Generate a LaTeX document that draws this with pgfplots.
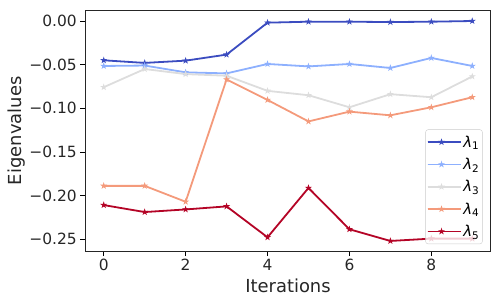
\documentclass[border=0pt]{standalone}
\usepackage{pgfplots}
\pgfplotsset{compat=1.18}
\usepackage{fontspec}
\setmainfont{DejaVu Sans}
\definecolor{c1}{RGB}{59,76,192}
\definecolor{c2}{RGB}{141,176,254}
\definecolor{c3}{RGB}{221,221,221}
\definecolor{c4}{RGB}{244,154,123}
\definecolor{c5}{RGB}{180,4,38}
\pgfdeclareplotmark{fstar}{%
  \pgfpathmoveto{\pgfpointpolar{90}{\pgfplotmarksize}}%
  \pgfpathlineto{\pgfpointpolar{126}{0.382\pgfplotmarksize}}%
  \pgfpathlineto{\pgfpointpolar{162}{\pgfplotmarksize}}%
  \pgfpathlineto{\pgfpointpolar{198}{0.382\pgfplotmarksize}}%
  \pgfpathlineto{\pgfpointpolar{234}{\pgfplotmarksize}}%
  \pgfpathlineto{\pgfpointpolar{270}{0.382\pgfplotmarksize}}%
  \pgfpathlineto{\pgfpointpolar{306}{\pgfplotmarksize}}%
  \pgfpathlineto{\pgfpointpolar{342}{0.382\pgfplotmarksize}}%
  \pgfpathlineto{\pgfpointpolar{18}{\pgfplotmarksize}}%
  \pgfpathlineto{\pgfpointpolar{54}{0.382\pgfplotmarksize}}%
  \pgfpathclose
  \pgfusepathqfillstroke}
\begin{document}
\begin{tikzpicture}
\begin{axis}[
  at={(0,0)}, anchor=south west,
  scale only axis, width=405.4bp, height=240.3bp,
  xmin=-0.45, xmax=9.45, ymin=-0.2634, ymax=0.0118,
  xtick={0,2,4,6,8}, xticklabels={0,2,4,6,8},
  ytick={-0.25,-0.2,-0.15,-0.1,-0.05,0},
  yticklabels={−0.25,−0.20,−0.15,−0.10,−0.05,0.00},
  tick align=outside, major tick length=5bp,
  tick style={black, line width=0.8bp},
  xtick pos=bottom, ytick pos=left,
  axis line style={line width=0.9bp, black!85},
  tick label style={font=\fontsize{15.5}{18}\selectfont, text=black!85},
  label style={font=\fontsize{18}{21}\selectfont, text=black!85},
  xlabel={Iterations}, ylabel={Eigenvalues},
  xlabel style={at={(axis description cs:0.5,0)}, anchor=base, yshift=-41bp},
  ylabel style={at={([xshift=-64bp]axis description cs:0,0.5)}, anchor=base},
  every axis plot/.append style={line width=1.8bp, mark=fstar, mark size=2.4bp, mark options={line width=0.8bp}},
  legend style={at={(0.980,0.029)}, anchor=south east,
    draw=black!20, rounded corners=2.5bp, fill=white, fill opacity=0.8, text opacity=1,
    font=\fontsize{15}{17}\selectfont, row sep=5.5bp, inner xsep=1bp, inner ysep=4bp},
  legend cell align=left,
  legend image code/.code={\path (0bp,0bp) -- (33bp,0bp); \draw[mark repeat=2,mark phase=2] plot coordinates {(0bp,0bp) (14bp,0bp) (28bp,0bp)};},
]
\addplot[c1] coordinates {(0,-0.045) (1,-0.048) (2,-0.0454) (3,-0.0385) (4,-0.0019) (5,-0.0008) (6,-0.0008) (7,-0.0012) (8,-0.0008) (9,0.0000)};
\addlegendentry{\textit{λ}\textsubscript{1}}
\addplot[c2] coordinates {(0,-0.0515) (1,-0.051) (2,-0.0588) (3,-0.060) (4,-0.0492) (5,-0.052) (6,-0.0492) (7,-0.0538) (8,-0.0423) (9,-0.0515)};
\addlegendentry{\textit{λ}\textsubscript{2}}
\addplot[c3] coordinates {(0,-0.0758) (1,-0.055) (2,-0.0608) (3,-0.0627) (4,-0.080) (5,-0.085) (6,-0.0988) (7,-0.0838) (8,-0.0873) (9,-0.0635)};
\addlegendentry{\textit{λ}\textsubscript{3}}
\addplot[c4] coordinates {(0,-0.1888) (1,-0.1888) (2,-0.207) (3,-0.0669) (4,-0.0904) (5,-0.115) (6,-0.1038) (7,-0.108) (8,-0.0988) (9,-0.0873)};
\addlegendentry{\textit{λ}\textsubscript{4}}
\addplot[c5] coordinates {(0,-0.2108) (1,-0.2188) (2,-0.2158) (3,-0.2123) (4,-0.2477) (5,-0.1912) (6,-0.2385) (7,-0.2519) (8,-0.2492) (9,-0.2492)};
\addlegendentry{\textit{λ}\textsubscript{5}}
\end{axis}
\pgfresetboundingbox
\path[use as bounding box] (-85.3bp,-51bp) rectangle (414.7bp,251bp);
\end{tikzpicture}
\end{document}
